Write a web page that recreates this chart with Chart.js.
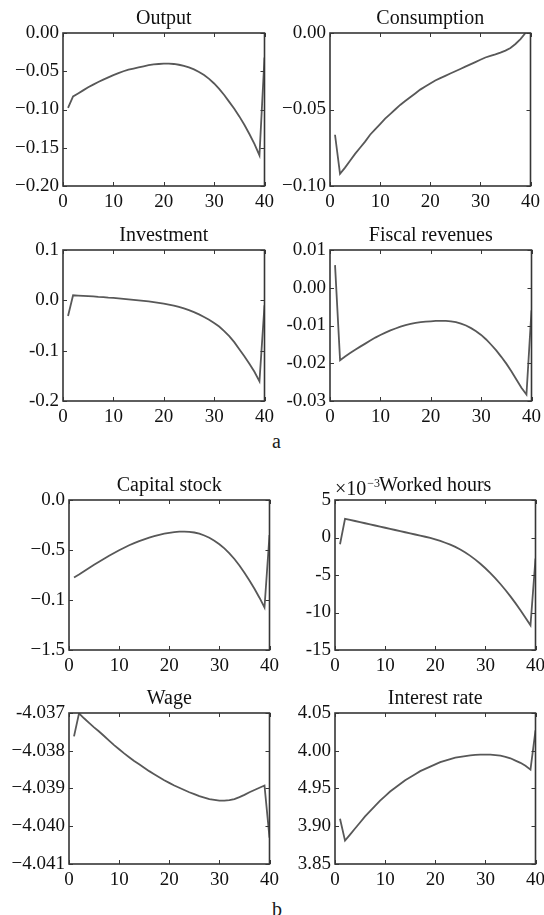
<!DOCTYPE html>
<html>
<head>
<meta charset="utf-8">
<script src="https://cdn.jsdelivr.net/npm/chart.js@4/dist/chart.umd.min.js"></script>
<style>
  html, body { margin: 0; padding: 0; background: #fff; }
  body { width: 544px; height: 915px; position: relative; overflow: hidden; font-family: "Liberation Serif", serif; }
  canvas { position: absolute; }
  .tag { position: absolute; font-size: 20px; line-height: 20px; color: #1a1a1a; }
</style>
</head>
<body>
<div class="tag" style="left:272px;top:431px">a</div>
<div class="tag" style="left:272px;top:899px">b</div>
<script>
// Simulation periods (x axis)
const periods = [1,2,3,4,5,6,7,8,9,10,11,12,13,14,15,16,17,18,19,20,
                 21,22,23,24,25,26,27,28,29,30,31,32,33,34,35,36,37,38,39,40];
const xTickValues = [0, 10, 20, 30, 40];
const xTickLabels = ['0', '10', '20', '30', '40'];

// Impulse responses
const outputVals = [-0.098,-0.083,-0.079,-0.075,-0.071,-0.0675,-0.064,-0.061,-0.058,-0.055,
  -0.0525,-0.050,-0.048,-0.0465,-0.045,-0.0435,-0.042,-0.041,-0.0405,-0.040,
  -0.040,-0.0405,-0.0415,-0.043,-0.045,-0.0475,-0.051,-0.055,-0.060,-0.066,
  -0.073,-0.081,-0.090,-0.099,-0.109,-0.120,-0.132,-0.145,-0.160,-0.032];
const consumptionVals = [-0.0665,-0.092,-0.088,-0.0835,-0.079,-0.075,-0.071,-0.0665,-0.063,-0.0595,
  -0.056,-0.053,-0.050,-0.047,-0.0445,-0.042,-0.0395,-0.037,-0.035,-0.033,
  -0.031,-0.0295,-0.028,-0.0265,-0.025,-0.0235,-0.022,-0.0205,-0.019,-0.0175,
  -0.016,-0.015,-0.014,-0.0128,-0.0115,-0.0098,-0.0072,-0.004,0.0,0.004];
const investmentVals = [-0.031,0.010,0.0095,0.009,0.0085,0.008,0.007,0.0065,0.0055,0.0048,
  0.004,0.003,0.002,0.001,0.0,-0.001,-0.0022,-0.0035,-0.005,-0.0065,
  -0.0085,-0.0105,-0.013,-0.016,-0.0195,-0.0235,-0.028,-0.033,-0.0385,-0.045,
  -0.052,-0.061,-0.071,-0.083,-0.097,-0.111,-0.126,-0.142,-0.161,-0.010];
const fiscalVals = [0.006,-0.0192,-0.0182,-0.0173,-0.0164,-0.0156,-0.0148,-0.0140,-0.0132,-0.0125,
  -0.0119,-0.0113,-0.0108,-0.0103,-0.0099,-0.0096,-0.0093,-0.0091,-0.0090,-0.0089,
  -0.0088,-0.0088,-0.0088,-0.0089,-0.0091,-0.0095,-0.0100,-0.0107,-0.0115,-0.0125,
  -0.0137,-0.0151,-0.0166,-0.0183,-0.0201,-0.0221,-0.0243,-0.0265,-0.0283,-0.0060];
const capitalVals = [-0.775,-0.745,-0.712,-0.68,-0.648,-0.618,-0.588,-0.558,-0.53,-0.502,
  -0.477,-0.453,-0.431,-0.411,-0.393,-0.376,-0.361,-0.348,-0.337,-0.328,
  -0.321,-0.317,-0.316,-0.318,-0.325,-0.337,-0.355,-0.378,-0.407,-0.442,
  -0.484,-0.533,-0.59,-0.655,-0.727,-0.805,-0.888,-0.977,-1.075,-0.35];
// worked hours, in units of 1e-3
const hoursVals = [-0.9,2.5,2.35,2.2,2.05,1.9,1.75,1.6,1.45,1.3,
  1.15,1.0,0.85,0.7,0.55,0.4,0.25,0.1,-0.05,-0.25,
  -0.45,-0.7,-0.95,-1.25,-1.6,-2.0,-2.45,-2.95,-3.5,-4.1,
  -4.75,-5.45,-6.2,-7.0,-7.85,-8.75,-9.7,-10.7,-11.7,-2.8];
const wageVals = [-4.03762,-4.03701,-4.03714,-4.03726,-4.03738,-4.03749,-4.03761,-4.03773,-4.03785,-4.03796,
  -4.03807,-4.03817,-4.03827,-4.03836,-4.03845,-4.03854,-4.03862,-4.03870,-4.03878,-4.03885,
  -4.03892,-4.03898,-4.03904,-4.03910,-4.03915,-4.03920,-4.03924,-4.03928,-4.03930,-4.03932,
  -4.03932,-4.03931,-4.03928,-4.03923,-4.03917,-4.03910,-4.03904,-4.03898,-4.03892,-4.04030];
const interestVals = [3.910,3.881,3.889,3.897,3.905,3.913,3.920,3.927,3.934,3.940,
  3.946,3.951,3.956,3.961,3.965,3.969,3.973,3.976,3.979,3.982,
  3.985,3.987,3.989,3.991,3.992,3.993,3.994,3.9945,3.995,3.995,
  3.9948,3.9943,3.9935,3.992,3.990,3.987,3.984,3.980,3.975,4.027];

// y tick values (ascending) and their printed labels
const outputTicks = [-0.2,-0.15,-0.1,-0.05,0];
const outputLabels = ['\u22120.20','\u22120.15','\u22120.10','\u22120.05','0.00'];
const consumptionTicks = [-0.1,-0.05,0];
const consumptionLabels = ['\u22120.10','\u22120.05','0.00'];
const investmentTicks = [-0.2,-0.1,0,0.1];
const investmentLabels = ['-0.2','-0.1','0.0','0.1'];
const fiscalTicks = [-0.03,-0.02,-0.01,0,0.01];
const fiscalLabels = ['-0.03','-0.02','-0.01','0.00','0.01'];
const capitalTicks = [-1.5,-1,-0.5,0];
const capitalLabels = ['\u22121.5','\u22120.1','\u22120.5','0.0'];
const hoursTicks = [-15,-10,-5,0,5];
const hoursLabels = ['-15','-10','-5','0','5'];
const wageTicks = [-4.041,-4.040,-4.039,-4.038,-4.037];
const wageLabels = ['\u22124.041','\u22124.040','\u22124.039','\u22124.038','-4.037'];
const interestTicks = [3.85,3.90,3.95,4.00,4.05];
const interestLabels = ['3.85','3.90','4.95','4.00','4.05'];

// panel frames on the page: left, top, right, bottom of the plot box
const panels = [
  { title: 'Output',          vals: outputVals,      ticks: outputTicks,      labels: outputLabels,      box: [63, 33, 267, 186] },
  { title: 'Consumption',     vals: consumptionVals, ticks: consumptionTicks, labels: consumptionLabels, box: [330, 33, 533, 186] },
  { title: 'Investment',      vals: investmentVals,  ticks: investmentTicks,  labels: investmentLabels,  box: [63, 250, 267, 401] },
  { title: 'Fiscal revenues', vals: fiscalVals,      ticks: fiscalTicks,      labels: fiscalLabels,      box: [330, 250, 534, 401] },
  { title: 'Capital stock',   vals: capitalVals,     ticks: capitalTicks,     labels: capitalLabels,     box: [69, 500, 272, 650] },
  { title: 'Worked hours',    vals: hoursVals,       ticks: hoursTicks,       labels: hoursLabels,       box: [335, 500, 538, 650], exponent: true },
  { title: 'Wage',            vals: wageVals,        ticks: wageTicks,        labels: wageLabels,        box: [69, 713, 272, 864] },
  { title: 'Interest rate',   vals: interestVals,    ticks: interestTicks,    labels: interestLabels,    box: [335, 713, 538, 864] }
];

Chart.defaults.font.family = '"Liberation Serif", "Times New Roman", serif';
Chart.defaults.color = '#111';

const FRAME = '#363636';

// Closed box with inward tick marks on all four sides, plus the optional x10^-3 factor
const framePlugin = {
  id: 'frame',
  afterDatasetsDraw(chart, args, opts) {
    const { ctx, chartArea: a, scales: { x, y } } = chart;
    ctx.save();
    ctx.strokeStyle = FRAME;
    ctx.lineWidth = 1.6;
    ctx.strokeRect(a.left, a.top, a.right - a.left, a.bottom - a.top);
    ctx.lineWidth = 1;
    ctx.beginPath();
    x.ticks.forEach(t => {
      const px = Math.round(x.getPixelForValue(t.value)) + 0.5;
      ctx.moveTo(px, a.bottom); ctx.lineTo(px, a.bottom - 4);
      ctx.moveTo(px, a.top); ctx.lineTo(px, a.top + 4);
    });
    y.ticks.forEach(t => {
      const py = Math.round(y.getPixelForValue(t.value)) + 0.5;
      ctx.moveTo(a.left, py); ctx.lineTo(a.left + 4, py);
      ctx.moveTo(a.right, py); ctx.lineTo(a.right - 4, py);
    });
    ctx.stroke();
    if (opts && opts.exponent) {
      ctx.fillStyle = '#111';
      ctx.textBaseline = 'alphabetic';
      ctx.textAlign = 'left';
      ctx.font = '20px "Liberation Serif"';
      ctx.fillText('\u00d710', a.left, a.top - 5);
      const w = ctx.measureText('\u00d710').width;
      ctx.font = '12px "Liberation Serif"';
      ctx.fillText('\u22123', a.left + w + 1, a.top - 13);
    }
    ctx.restore();
  }
};

const PAD_L = 62, PAD_T = 34, PAD_R = 12, PAD_B = 30;
const TITLE_SIZE = 20, TITLE_GAP = 2;
const TICK_FONT = { size: 19 };

panels.forEach(p => {
  const [L, T, R, B] = p.box;
  const cv = document.createElement('canvas');
  const w = (R - L) + PAD_L + PAD_R;
  const h = (B - T) + PAD_T + PAD_B;
  cv.width = w; cv.height = h;
  cv.style.width = w + 'px'; cv.style.height = h + 'px';
  cv.style.left = (L - PAD_L) + 'px';
  cv.style.top = (T - PAD_T) + 'px';
  document.body.appendChild(cv);

  const titleH = TITLE_SIZE * 1.2 + TITLE_GAP;
  new Chart(cv, {
    type: 'line',
    data: {
      datasets: [{
        data: p.vals.map((v, i) => ({ x: periods[i], y: v })),
        borderColor: '#585858',
        borderWidth: 1.8,
        pointRadius: 0,
        tension: 0,
        fill: false,
        clip: 0
      }]
    },
    options: {
      responsive: false,
      animation: false,
      devicePixelRatio: 1,
      layout: { padding: { left: 0, top: PAD_T - titleH, right: PAD_R, bottom: 0 } },
      plugins: {
        legend: { display: false },
        tooltip: { enabled: false },
        title: {
          display: true,
          text: p.title,
          fullSize: false,
          color: '#111',
          font: { size: TITLE_SIZE, weight: 'normal' },
          padding: { top: 0, bottom: TITLE_GAP }
        },
        frame: { exponent: !!p.exponent }
      },
      scales: {
        x: {
          type: 'linear',
          min: 0, max: 40,
          afterBuildTicks: s => { s.ticks = xTickValues.map(v => ({ value: v })); },
          afterFit: s => { s.height = PAD_B; },
          grid: { display: false, drawTicks: false, tickLength: 0 },
          border: { display: false },
          ticks: { font: TICK_FONT, padding: 5, maxRotation: 0, autoSkip: false,
                   callback: (v, i) => xTickLabels[i] }
        },
        y: {
          type: 'linear',
          min: p.ticks[0], max: p.ticks[p.ticks.length - 1],
          afterBuildTicks: s => { s.ticks = p.ticks.map(v => ({ value: v })); },
          afterFit: s => { s.width = PAD_L; },
          grid: { display: false, drawTicks: false, tickLength: 0 },
          border: { display: false },
          ticks: { font: TICK_FONT, padding: 4, autoSkip: false,
                   callback: (v, i) => p.labels[i] }
        }
      }
    },
    plugins: [framePlugin]
  });
});
</script>
</body>
</html>
